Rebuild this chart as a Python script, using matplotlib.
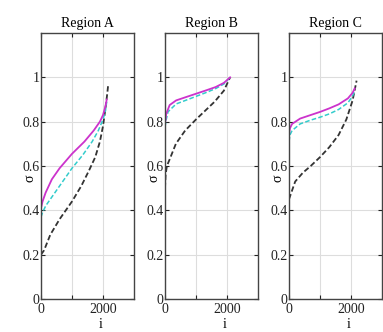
import matplotlib
matplotlib.use('Agg')
import matplotlib.pyplot as plt

# values (x = i, y = sigma)
titles = ['Region A', 'Region B', 'Region C']

a_mag_x = [0, 50, 150, 350, 600, 1000, 1400, 1700, 1900, 2000, 2080, 2120]
a_mag_y = [0.41, 0.44, 0.48, 0.54, 0.59, 0.655, 0.71, 0.76, 0.80, 0.83, 0.87, 0.90]
a_cyn_x = [0, 50, 150, 400, 700, 1000, 1350, 1650, 1850, 2000, 2080, 2120]
a_cyn_y = [0.37, 0.39, 0.42, 0.47, 0.53, 0.59, 0.65, 0.71, 0.76, 0.81, 0.85, 0.89]
a_blk_x = [0, 100, 300, 600, 1000, 1300, 1550, 1750, 1900, 2000, 2080, 2140, 2170]
a_blk_y = [0.20, 0.22, 0.29, 0.36, 0.44, 0.51, 0.58, 0.64, 0.71, 0.78, 0.86, 0.93, 0.97]

b_mag_x = [0, 40, 150, 360, 700, 1000, 1300, 1630, 1900, 2100]
b_mag_y = [0.79, 0.835, 0.875, 0.896, 0.912, 0.926, 0.94, 0.956, 0.975, 1.0]
b_cyn_x = [0, 40, 100, 360, 700, 1000, 1300, 1630, 1900, 2100]
b_cyn_y = [0.775, 0.81, 0.845, 0.88, 0.898, 0.914, 0.93, 0.949, 0.97, 1.0]
b_blk_x = [0, 20, 60, 150, 350, 650, 1000, 1300, 1600, 1900, 2100]
b_blk_y = [0.50, 0.56, 0.60, 0.63, 0.70, 0.76, 0.81, 0.85, 0.89, 0.94, 1.0]

c_mag_x = [0, 30, 100, 360, 700, 1000, 1300, 1600, 1900, 2050, 2120]
c_mag_y = [0.745, 0.77, 0.79, 0.814, 0.83, 0.844, 0.86, 0.878, 0.905, 0.93, 0.95]
c_cyn_x = [0, 30, 100, 360, 700, 1000, 1300, 1600, 1900, 2050, 2120]
c_cyn_y = [0.71, 0.74, 0.76, 0.79, 0.807, 0.82, 0.835, 0.855, 0.885, 0.915, 0.94]
c_blk_x = [0, 100, 200, 450, 700, 1000, 1300, 1600, 1850, 2050, 2130, 2180]
c_blk_y = [0.45, 0.49, 0.53, 0.57, 0.60, 0.64, 0.685, 0.74, 0.81, 0.895, 0.95, 0.985]

regions = [
    (a_mag_x, a_mag_y, a_cyn_x, a_cyn_y, a_blk_x, a_blk_y),
    (b_mag_x, b_mag_y, b_cyn_x, b_cyn_y, b_blk_x, b_blk_y),
    (c_mag_x, c_mag_y, c_cyn_x, c_cyn_y, c_blk_x, c_blk_y),
]

plt.rcParams['font.family'] = ['Liberation Serif', 'DejaVu Serif']
plt.rcParams['font.size'] = 10

fig = plt.figure(figsize=(3.83, 3.32), dpi=100)
lefts = [41, 165, 289]
for k, left in enumerate(lefts):
    ax = fig.add_axes([left / 383, 33 / 332, 93 / 383, 266 / 332])
    mx, my, cx, cy, bx, by = regions[k]
    ax.plot(bx, by, color='#333333', lw=1.3, ls=(0, (3, 1.5)))
    ax.plot(cx, cy, color='#33cccc', lw=1.1, ls=(0, (3, 1.5)))
    ax.plot(mx, my, color='#cc33cc', lw=1.3)

    ax.set_xlim(0, 3000)
    ax.set_ylim(0, 1.2)
    ax.set_xticks([0, 1000, 2000])
    ax.set_xticklabels(['0', '', '2000'])
    ax.set_yticks([0, 0.2, 0.4, 0.6, 0.8, 1.0])
    ax.set_yticklabels(['0', '0.2', '0.4', '0.6', '0.8', '1'])
    ax.grid(True, color='#dddddd', lw=0.8)
    ax.tick_params(direction='in', length=3, width=0.8, top=True, right=True,
                   pad=1, colors='#222222', labelsize=10)
    ax.tick_params(axis='x', pad=3)
    for s in ax.spines.values():
        s.set_color('#444444')
        s.set_linewidth(1.0)
    ax.set_title(titles[k], fontsize=10, pad=4)
    ax.set_xlabel('i', fontsize=10)
    ax.xaxis.set_label_coords(0.645, -0.072)
    ax.set_ylabel('σ', fontsize=10)
    ax.yaxis.set_label_coords(-0.045, 0.455)

fig.savefig('out.png', dpi=100)
